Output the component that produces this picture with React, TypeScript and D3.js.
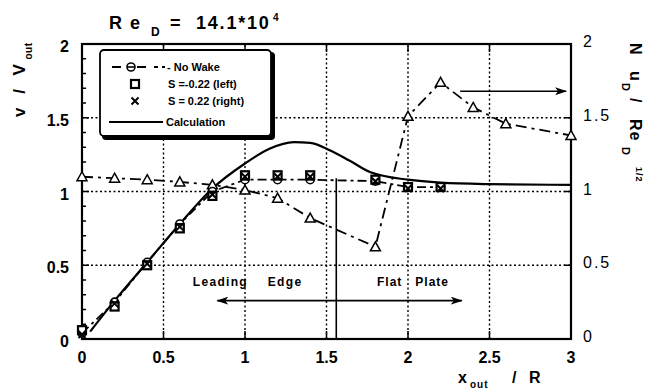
import * as d3 from 'd3'

// measured points
const markX = [0, 0.2, 0.4, 0.6, 0.8, 1.0, 1.2, 1.4, 1.8, 2.0, 2.2]
const noWake = [0.04, 0.25, 0.52, 0.78, 1.0, 1.08, 1.08, 1.08, 1.07, 1.03, 1.03]
const sLeft = [0.06, 0.22, 0.5, 0.75, 0.97, 1.11, 1.11, 1.11, 1.08, 1.03, 1.03]
const sRight = [0.03, 0.24, 0.51, 0.76, 0.98, 1.1, 1.1, 1.1, 1.07, 1.02, 1.02]

// Nu_D / Re_D^1/2 (right axis)
const nuX = [0, 0.2, 0.4, 0.6, 0.8, 1.0, 1.2, 1.4, 1.8, 2.0, 2.2, 2.4, 2.6, 3.0]
const nuVals = [1.1, 1.09, 1.08, 1.065, 1.045, 1.01, 0.955, 0.82, 0.625, 1.51, 1.74, 1.57, 1.46, 1.38]

// calculation
const calcX = [0.05, 0.2, 0.4, 0.6, 0.8, 1.0, 1.15, 1.3, 1.4, 1.52, 1.64, 1.77, 2.0, 2.2, 2.5, 3.0]
const calcY = [0.05, 0.26, 0.52, 0.78, 1.02, 1.19, 1.29, 1.335, 1.33, 1.28, 1.21, 1.13, 1.08, 1.06, 1.05, 1.045]

const xTicks = [0, 0.5, 1, 1.5, 2, 2.5, 3]
const xTickLabels = ['0', '0.5', '1', '1.5', '2', '2.5', '3']
const yTicks = [0, 0.5, 1, 1.5, 2]
const yTickLabels = ['0', '0.5', '1', '1.5', '2']
const edgeX = 1.56

const W = 645
const H = 389
const font = 'Liberation Sans, Arial, sans-serif'

export default function App() {
  const x = d3.scaleLinear().domain([0, 3]).range([82, 571])
  const y = d3.scaleLinear().domain([0, 2]).range([339, 44])
  const y2 = d3.scaleLinear().domain([0, 2]).range([339, 44])

  const line = d3.line<[number, number]>().x((d) => x(d[0])).y((d) => y(d[1]))
  const calcPath = d3
    .line<[number, number]>()
    .x((d) => x(d[0]))
    .y((d) => y(d[1]))
    .curve(d3.curveMonotoneX)(calcX.map((v, i) => [v, calcY[i]]))
  const wakePath = line(markX.map((v, i) => [v, noWake[i]]))
  const nuPath = d3
    .line<[number, number]>()
    .x((d) => x(d[0]))
    .y((d) => y2(d[1]))(nuX.map((v, i) => [v, nuVals[i]]))

  const minor = d3.range(0, 2.01, 0.1)
  const [x0, x1] = x.range()
  const [yb, yt] = y.range()

  const tri = (cx: number, cy: number, k: number) => (
    <path
      key={k}
      d={`M${cx},${cy - 5}L${cx + 5},${cy + 4}L${cx - 5},${cy + 4}Z`}
      fill="#fff"
      stroke="#000"
      strokeWidth={1.5}
    />
  )
  const sq = (cx: number, cy: number, k: number) => (
    <rect key={k} x={cx - 4} y={cy - 4} width={8} height={8} fill="#fff" stroke="#000" strokeWidth={2.2} />
  )
  const cross = (cx: number, cy: number, k: number) => (
    <path key={k} d={`M${cx - 3.5},${cy - 3.5}L${cx + 3.5},${cy + 3.5}M${cx + 3.5},${cy - 3.5}L${cx - 3.5},${cy + 3.5}`} stroke="#000" strokeWidth={2} />
  )
  const circ = (cx: number, cy: number, k: number) => (
    <g key={k}>
      <circle cx={cx} cy={cy} r={4} fill="#fff" stroke="#000" strokeWidth={1.6} />
      <line x1={cx - 4} x2={cx + 4} y1={cy} y2={cy} stroke="#000" strokeWidth={1.6} />
    </g>
  )

  return (
    <svg width={W} height={H} style={{ position: 'absolute', left: 0, top: 0, background: '#fff' }} fontFamily={font}>
      {/* grid */}
      <g stroke="#000" strokeWidth={1.4} strokeDasharray="2,2.5">
        {xTicks.slice(1, -1).map((t) => (
          <line key={'gx' + t} x1={x(t)} x2={x(t)} y1={yb} y2={yt} />
        ))}
        {yTicks.slice(1, -1).map((t) => (
          <line key={'gy' + t} x1={x0} x2={x1} y1={y(t)} y2={y(t)} />
        ))}
      </g>

      {/* ticks */}
      <g stroke="#000" strokeWidth={1.5}>
        {minor.map((t, i) => (
          <line key={'ml' + i} x1={x0} x2={x0 + (i % 5 === 0 ? 7 : 4)} y1={y(t)} y2={y(t)} />
        ))}
        {yTicks.map((t) => (
          <line key={'mr' + t} x1={x1} x2={x1 - 7} y1={y2(t)} y2={y2(t)} />
        ))}
        {xTicks.map((t) => (
          <g key={'tx' + t}>
            <line x1={x(t)} x2={x(t)} y1={yb} y2={yb - 8} />
            <line x1={x(t)} x2={x(t)} y1={yt} y2={yt + 8} />
          </g>
        ))}
      </g>

      {/* leading edge line */}
      <line x1={x(edgeX)} x2={x(edgeX)} y1={y(1.09)} y2={yb} stroke="#000" strokeWidth={1.6} />

      {/* frame */}
      <rect x={x0} y={yt} width={x1 - x0} height={yb - yt} fill="none" stroke="#000" strokeWidth={2.2} />

      {/* curves */}
      <path d={calcPath ?? ''} fill="none" stroke="#000" strokeWidth={2.2} />
      <path d={wakePath ?? ''} fill="none" stroke="#000" strokeWidth={1.8} strokeDasharray="9,4,3,4" />
      <path d={nuPath ?? ''} fill="none" stroke="#000" strokeWidth={1.8} strokeDasharray="11,5,3,5" />

      {nuX.map((v, i) => tri(x(v), y2(nuVals[i]), i))}
      {markX.map((v, i) => circ(x(v), y(noWake[i]), i))}
      {markX.map((v, i) => sq(x(v), y(sLeft[i]), i))}
      {markX.map((v, i) => cross(x(v), y(sRight[i]), i))}

      {/* annotation arrows */}
      <defs>
        <marker id="ah" viewBox="0 0 12 8" refX={11} refY={4} markerWidth={12} markerHeight={8} markerUnits="userSpaceOnUse" orient="auto-start-reverse">
          <path d="M0,0L12,4L0,8L3,4Z" fill="#000" />
        </marker>
      </defs>
      <line x1={x(2.32)} x2={x(2.97)} y1={y2(1.68)} y2={y2(1.68)} stroke="#000" strokeWidth={1.6} markerEnd="url(#ah)" />
      <line x1={x(edgeX)} x2={x(0.83)} y1={y(0.26)} y2={y(0.26)} stroke="#000" strokeWidth={1.6} markerEnd="url(#ah)" />
      <line x1={x(edgeX)} x2={x(2.33)} y1={y(0.26)} y2={y(0.26)} stroke="#000" strokeWidth={1.6} markerEnd="url(#ah)" />
      <g fontSize={12} fontWeight="bold">
        <text x={x(0.68)} y={y(0.36)} letterSpacing={1.3}>
          Leading
        </text>
        <text x={x(1.14)} y={y(0.36)} letterSpacing={1.3}>
          Edge
        </text>
        <text x={x(1.81)} y={y(0.36)} letterSpacing={1}>
          Flat
        </text>
        <text x={x(2.045)} y={y(0.36)} letterSpacing={1}>
          Plate
        </text>
      </g>

      {/* tick labels */}
      {xTicks.map((t, i) => (
        <text key={'xl' + t} x={x(t)} y={363} textAnchor="middle" fontSize={16} fontWeight="bold">
          {xTickLabels[i]}
        </text>
      ))}
      {yTicks.map((t, i) => (
        <text key={'yl' + t} x={69} y={y(t) + 8} textAnchor="end" fontSize={16} fontWeight="bold">
          {yTickLabels[i]}
        </text>
      ))}
      {yTicks.map((t, i) => (
        <text key={'yr' + t} x={583} y={y2(t) + 3} fontSize={16} letterSpacing={2}>
          {yTickLabels[i]}
        </text>
      ))}

      {/* title */}
      <text y={29} fontSize={18} fontWeight="bold">
        <tspan x={109}>R</tspan>
        <tspan x={130}>e</tspan>
        <tspan x={151} dy={7} fontSize={12}>D</tspan>
        <tspan x={170} dy={-7}>=</tspan>
        <tspan x={196} letterSpacing={1.8}>14.1*10</tspan>
        <tspan x={273} dy={-8} fontSize={10}>4</tspan>
      </text>

      {/* axis titles */}
      <text transform="translate(25,117) rotate(-90)" fontSize={17} fontWeight="bold" letterSpacing={4.5}>
        v / V
        <tspan dy={7} fontSize={10} letterSpacing={0.5}>out</tspan>
      </text>
      <text transform="translate(630,0) rotate(90)" fontSize={16} fontWeight="bold">
        <tspan x={43}>N</tspan>
        <tspan x={71}>u</tspan>
        <tspan x={83} dy={8} fontSize={11}>D</tspan>
        <tspan x={98} dy={-8}>/</tspan>
        <tspan x={119} letterSpacing={1}>Re</tspan>
        <tspan x={147} dy={8} fontSize={11}>D</tspan>
        <tspan x={167} dy={-14} fontSize={9} letterSpacing={1}>1/2</tspan>
      </text>
      <text y={383} fontSize={16} fontWeight="bold">
        <tspan x={458}>x</tspan>
        <tspan x={470} dy={5} fontSize={10} letterSpacing={1}>out</tspan>
        <tspan x={512} dy={-5}>/</tspan>
        <tspan x={529}>R</tspan>
      </text>

      {/* legend */}
      <rect x={102} y={52} width={173} height={88} rx={4} fill="#000" />
      <rect x={100} y={50} width={171} height={86} rx={4} fill="#fff" stroke="#000" strokeWidth={1.8} />
      <line x1={112} x2={165} y1={67} y2={67} stroke="#000" strokeWidth={1.8} strokeDasharray="9,8,4,4" />
      {circ(131, 67, 100)}
      <text x={167} y={71} fontSize={11} fontWeight="bold">- No Wake</text>
      {sq(135, 84, 101)}
      <text x={168} y={88} fontSize={11} fontWeight="bold">S =-0.22 (left)</text>
      {cross(135, 101, 102)}
      <text x={168} y={105} fontSize={11} fontWeight="bold">S = 0.22 (right)</text>
      <line x1={109} x2={163} y1={122} y2={122} stroke="#000" strokeWidth={2} />
      <text x={166} y={126} fontSize={11} fontWeight="bold">Calculation</text>
    </svg>
  )
}
